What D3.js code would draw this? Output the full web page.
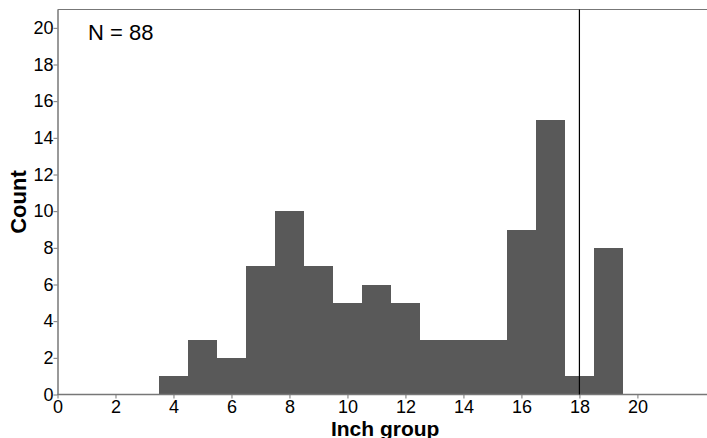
<!DOCTYPE html>
<html>
<head>
<meta charset="utf-8">
<script src="https://cdn.jsdelivr.net/npm/d3@7"></script>
<style>
  body { margin: 0; background: #fff; }
  svg { display: block; font-family: Arial, "Liberation Sans", sans-serif; }
</style>
</head>
<body>
<svg id="chart" width="707" height="438"></svg>
<script>
// histogram counts by inch group
const inchGroups = [4, 5, 6, 7, 8, 9, 10, 11, 12, 13, 14, 15, 16, 17, 18, 19];
const counts = [1, 3, 2, 7, 10, 7, 5, 6, 5, 3, 3, 3, 9, 15, 1, 8];
const xTicks = [0, 2, 4, 6, 8, 10, 12, 14, 16, 18, 20];
const yTicks = [0, 2, 4, 6, 8, 10, 12, 14, 16, 18, 20];
const refLine = 18;
const nLabel = "N = 88";

const svg = d3.select("#chart");
const margin = { left: 57.5, right: 0, top: 9.5, bottom: 43.5 };
const width = 707 - margin.left - margin.right;
const height = 438 - margin.top - margin.bottom;

const x = d3.scaleLinear().domain([0, 22.4]).range([0, width]);
const y = d3.scaleLinear().domain([0, 21]).range([height, 0]);

const g = svg.append("g").attr("transform", `translate(${margin.left}, ${margin.top})`);

let data = inchGroups.map((d, i) => ({ group: d, count: counts[i] }));

// bars
g.selectAll("rect.bar")
  .data(data)
  .join("rect")
  .attr("class", "bar")
  .attr("x", (d) => x(d.group - 0.5))
  .attr("width", (d) => x(d.group + 0.5) - x(d.group - 0.5))
  .attr("y", (d) => y(d.count))
  .attr("height", (d) => y(0) - y(d.count))
  .attr("fill", "#595959")
  .attr("shape-rendering", "crispEdges");

// top border
g.append("line")
  .attr("x1", 0).attr("x2", width)
  .attr("y1", 0).attr("y2", 0)
  .attr("stroke", "#777");

// axes
const xAxis = g.append("g")
  .attr("transform", `translate(0, ${height})`)
  .call(d3.axisBottom(x).tickValues(xTicks).tickSize(4).tickSizeOuter(0));
const yAxis = g.append("g")
  .call(d3.axisLeft(y).tickValues(yTicks).tickSize(4).tickSizeOuter(0));

[xAxis, yAxis].forEach((a) => {
  a.attr("font-size", 18).attr("font-family", "Arial, 'Liberation Sans', sans-serif");
  a.select(".domain").attr("stroke", "#777").attr("stroke-width", 1.5);
  a.selectAll(".tick line").attr("stroke", "#777");
  a.selectAll(".tick text").attr("fill", "#000");
});
xAxis.select(".domain").attr("d", `M0,0H${width}`);
xAxis.selectAll(".tick text").attr("dy", "0.9em").attr("y", 2);
yAxis.selectAll(".tick text").attr("x", -4);

// reference line
g.append("line")
  .attr("x1", x(refLine)).attr("x2", x(refLine))
  .attr("y1", 0).attr("y2", height)
  .attr("stroke", "#000")
  .attr("stroke-width", 1.2);

// N label
g.append("text")
  .attr("x", x(1.05))
  .attr("y", y(19.35))
  .attr("font-size", 22)
  .attr("fill", "#000")
  .text(nLabel);

// axis titles
svg.append("text")
  .attr("x", margin.left + x(11.3))
  .attr("y", 436)
  .attr("text-anchor", "middle")
  .attr("font-size", 21)
  .attr("font-weight", "bold")
  .text("Inch group");

svg.append("text")
  .attr("transform", `translate(26, ${margin.top + height / 2}) rotate(-90)`)
  .attr("text-anchor", "middle")
  .attr("font-size", 22)
  .attr("font-weight", "bold")
  .text("Count");
</script>
</body>
</html>
